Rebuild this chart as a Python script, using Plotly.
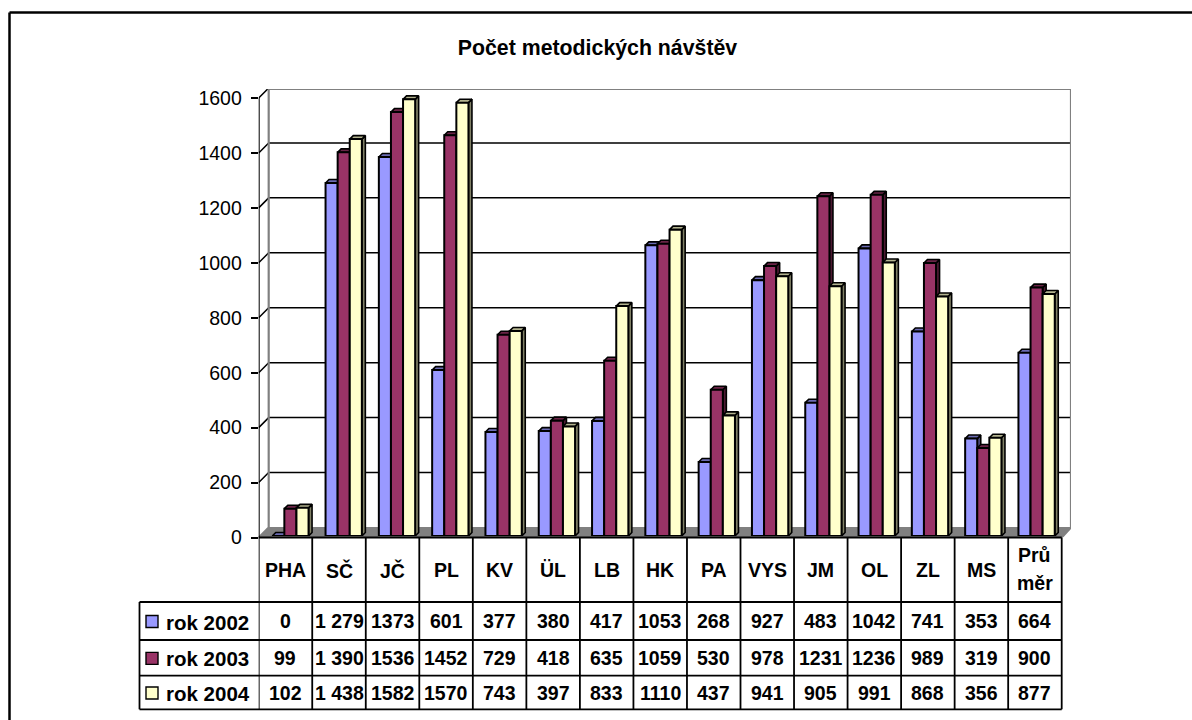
import plotly.graph_objects as go

# ---------- data ----------
regions = ["PHA", "SČ", "JČ", "PL", "KV", "ÜL", "LB", "HK", "PA", "VYS", "JM", "OL", "ZL", "MS", "Prů<br>měr"]
series_names = ["rok 2002", "rok 2003", "rok 2004"]
rok_2002 = [0, 1279, 1373, 601, 377, 380, 417, 1053, 268, 927, 483, 1042, 741, 353, 664]
rok_2003 = [99, 1390, 1536, 1452, 729, 418, 635, 1059, 530, 978, 1231, 1236, 989, 319, 900]
rok_2004 = [102, 1438, 1582, 1570, 743, 397, 833, 1110, 437, 941, 905, 991, 868, 356, 877]
y_ticks = [0, 200, 400, 600, 800, 1000, 1200, 1400, 1600]
title_text = "Počet metodických návštěv"

# ---------- styles ----------
W, H = 1192, 720
FONT = "Liberation Sans, Arial, sans-serif"
front_cols = ["#9999FF", "#993366", "#FFFFCC"]
top_cols = ["#6B6BB3", "#6B2447", "#B3B38F"]
side_cols = ["#4D4D80", "#4D1A33", "#808066"]
all_series = [rok_2002, rok_2003, rok_2004]

# pixel frame of the chart
PX_L, PX_R_BACK, PX_R_TABLE = 258.7, 1071.0, 1061.7
PX_ZERO, PX_TOP = 537.5, 89.0
COL = (PX_R_TABLE - PX_L) / 15
SCALE = 0.2747                 # px per unit, walls and ticks
DEPTH = 10.0                   # px, wall depth
BAR_ZERO, BAR_SCALE = 536.0, 0.276
BAR_PITCH, BAR_C0 = 53.3, 290.4
BAR_W = 12.1 / BAR_PITCH
BAR_DX, BAR_DY = 3.5 / BAR_PITCH, 3.5 / BAR_SCALE


def yfrac(px):
    return 1 - px / H


wall_dx = DEPTH / COL
wall_dy = DEPTH / SCALE
wall_xmax = (PX_R_BACK - PX_L) / COL
wall_ymax = (PX_ZERO - PX_TOP) / SCALE
xfront = (PX_R_TABLE - PX_L) / COL

fig = go.Figure()

# floor
fig.add_trace(go.Scatter(
    x=[0, xfront, wall_xmax, wall_dx, 0], y=[0, 0, wall_dy, wall_dy, 0],
    mode="lines", fill="toself", fillcolor="#808080", line=dict(color="#808080", width=1),
    xaxis="x", yaxis="y", hoverinfo="skip"))
# gridlines on the back wall with their diagonals on the side wall
gx, gy = [], []
for v in y_ticks[1:]:
    gx += [0, wall_dx, wall_xmax, None]
    gy += [v, v + wall_dy, v + wall_dy, None]
fig.add_trace(go.Scatter(x=gx, y=gy, mode="lines", line=dict(color="black", width=1.5),
                         xaxis="x", yaxis="y", hoverinfo="skip"))
# wall outline
fig.add_trace(go.Scatter(
    x=[0, wall_dx, wall_dx, wall_xmax, wall_xmax, xfront],
    y=[0, wall_dy, wall_ymax, wall_ymax, wall_dy, 0],
    mode="lines", line=dict(color="#808080", width=2.2),
    xaxis="x", yaxis="y", hoverinfo="skip", cliponaxis=False))
# value axis line
fig.add_trace(go.Scatter(x=[0, 0], y=[y_ticks[0], y_ticks[-1]], mode="lines",
                         line=dict(color="black", width=2), xaxis="x", yaxis="y",
                         hoverinfo="skip", cliponaxis=False))

# side and top faces of the bars
for s, vals in enumerate(all_series):
    sx, sy, tx, ty = [], [], [], []
    for i, v in enumerate(vals):
        xl = i + (s - 1.5) * BAR_W
        xr = xl + BAR_W
        sx += [xr, xr + BAR_DX, xr + BAR_DX, xr, xr, None]
        sy += [0, BAR_DY, v + BAR_DY, v, 0, None]
        tx += [xl, xr, xr + BAR_DX, xl + BAR_DX, xl, None]
        ty += [v, v, v + BAR_DY, v + BAR_DY, v, None]
    fig.add_trace(go.Scatter(x=sx, y=sy, mode="lines", fill="toself", fillcolor=side_cols[s],
                             line=dict(color="black", width=1.6), xaxis="x2", yaxis="y2", hoverinfo="skip"))
    fig.add_trace(go.Scatter(x=tx, y=ty, mode="lines", fill="toself", fillcolor=top_cols[s],
                             line=dict(color="black", width=1.6), xaxis="x2", yaxis="y2", hoverinfo="skip"))

# front faces
idx = list(range(len(regions)))
for s, vals in enumerate(all_series):
    fig.add_trace(go.Bar(x=idx, y=vals, name=series_names[s], marker=dict(
        color=front_cols[s], line=dict(color="black", width=2)), xaxis="x3", yaxis="y3"))

shapes, annos = [], []


def line(x0, y0, x1, y1, w=1.8, color="black", xref="paper"):
    shapes.append(dict(type="line", xref=xref, yref="paper", x0=x0, x1=x1,
                       y0=yfrac(y0), y1=yfrac(y1), line=dict(color=color, width=w)))


# outer frame (open on the right, runs off the bottom)
line(9.5 / W, 12.5, 1, 12.5, 2.5)
line(9.5 / W, 12.5, 9.5 / W, H, 2.5)

# data table
ROWS = [602.0, 640.0, 675.7, 709.3]
LEG_L = 139.5
line(PX_L / W, PX_ZERO, PX_R_TABLE / W, PX_ZERO)
for r in ROWS:
    line(LEG_L / W, r, PX_R_TABLE / W, r)
line(LEG_L / W, ROWS[0], LEG_L / W, ROWS[-1])
for c in range(16):
    line(c, PX_ZERO, c, ROWS[-1], xref="x")


def cell(x, xref, ypx, text, anchor="center", size=19.5):
    annos.append(dict(x=x, xref=xref, y=yfrac(ypx), yref="paper", text=text, showarrow=False,
                      xanchor=anchor, yanchor="middle",
                      font=dict(family=FONT, size=size, color="black"), borderpad=0))


for i, r in enumerate(regions):
    if "<br>" in r:
        a, b = r.split("<br>")
        cell(i + 0.5, "x", 555, a)
        cell(i + 0.5, "x", 583, b)
    else:
        cell(i + 0.5, "x", 570, r)

for s, vals in enumerate(all_series):
    yc = (ROWS[s] + ROWS[s + 1]) / 2
    for i, v in enumerate(vals):
        # the second column of the source table uses a thousands space
        txt = f"{v:,}".replace(",", " ") if i == 1 else str(v)
        cell(i + 0.5, "x", yc, txt)
    cell(165 / W, "paper", yc + 1, series_names[s], anchor="left", size=20.5)
    shapes.append(dict(type="rect", xref="paper", yref="paper", x0=146 / W, x1=158 / W,
                       y0=yfrac(yc + 6.5), y1=yfrac(yc - 5.5), fillcolor=front_cols[s],
                       line=dict(color="black", width=1.4)))

annos = [dict(a, text="<b>" + a["text"] + "</b>") for a in annos]

dom_x = [PX_L / W, PX_R_BACK / W]
bar_x_range = [(PX_L - BAR_C0) / BAR_PITCH, (PX_R_BACK - BAR_C0) / BAR_PITCH]

fig.update_layout(
    template="none",
    width=W, height=H, autosize=False,
    margin=dict(l=0, r=0, t=0, b=0, pad=0),
    paper_bgcolor="white", plot_bgcolor="rgba(0,0,0,0)",
    showlegend=False, barmode="group", bargap=1 - 3 * BAR_W, bargroupgap=0,
    title=dict(text="<b>" + title_text + "</b>", x=597.5 / W, y=yfrac(48), xanchor="center", yanchor="middle",
               xref="paper", yref="paper", font=dict(family=FONT, size=21.3, color="black")),
    font=dict(family=FONT),
    xaxis=dict(domain=dom_x, range=[0, wall_xmax], visible=False, automargin=False),
    yaxis=dict(domain=[yfrac(PX_ZERO), yfrac(PX_TOP)], range=[0, wall_ymax], automargin=False,
               tickmode="array", tickvals=y_ticks, ticks="outside", ticklen=7, tickwidth=1.8,
               tickcolor="black", showgrid=False, zeroline=False, showline=False,
               ticklabelstandoff=5, tickfont=dict(family=FONT, size=19.5, color="black")),
    xaxis2=dict(domain=dom_x, range=bar_x_range, visible=False, anchor="y2", automargin=False),
    yaxis2=dict(domain=[yfrac(BAR_ZERO), yfrac(PX_TOP)], range=[0, (BAR_ZERO - PX_TOP) / BAR_SCALE],
                visible=False, anchor="x2", automargin=False),
    xaxis3=dict(domain=dom_x, range=bar_x_range, visible=False, anchor="y3", automargin=False),
    yaxis3=dict(domain=[yfrac(BAR_ZERO), yfrac(PX_TOP)], range=[0, (BAR_ZERO - PX_TOP) / BAR_SCALE],
                visible=False, anchor="x3", automargin=False),
    shapes=shapes, annotations=annos,
)

fig.write_html("out.html", config={"displayModeBar": False},
               post_script="document.body.style.margin='0';document.body.style.overflow='hidden';")
